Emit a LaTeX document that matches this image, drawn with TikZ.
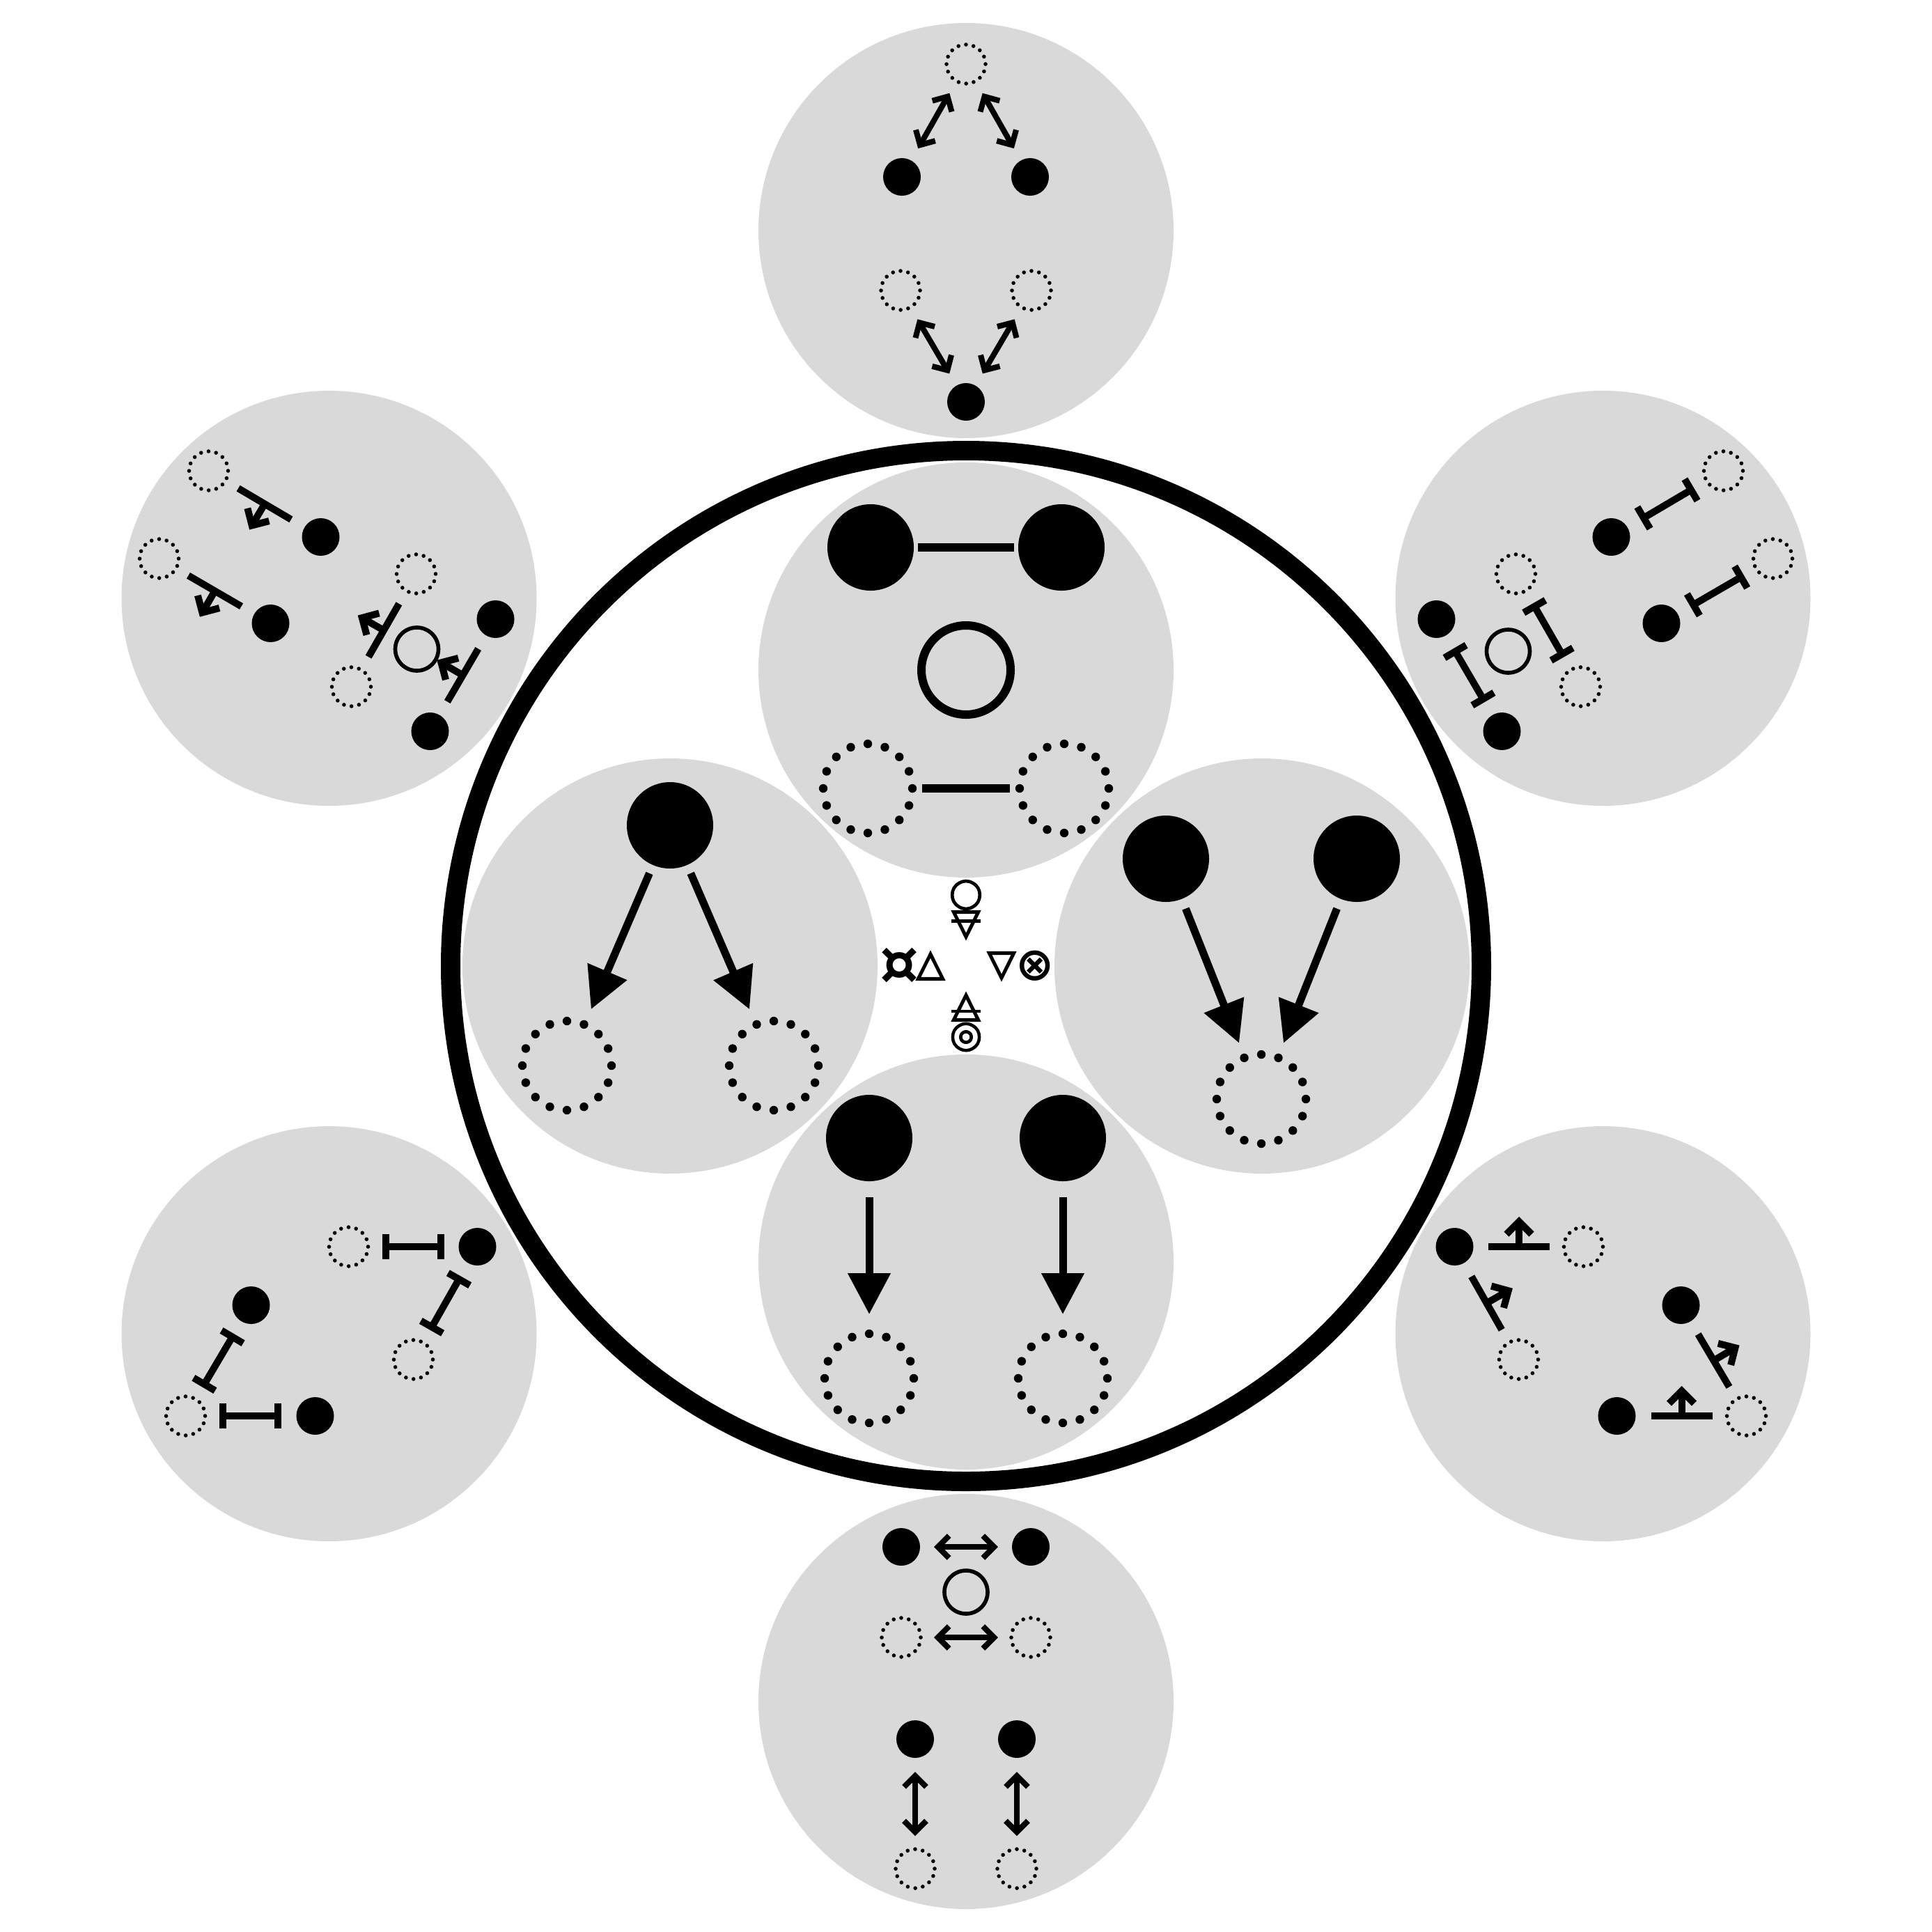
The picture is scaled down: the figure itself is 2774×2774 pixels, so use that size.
\documentclass[tikz,border=0pt]{standalone}
\usepackage{fontspec}
\newfontfamily\symfont{DejaVu Sans}
\newfontfamily\symfontfb{DejaVu Sans}[FakeBold=2.5]
\newfontfamily\symfonttri{DejaVu Sans}[FakeBold=4.5]
\usetikzlibrary{arrows.meta,calc}
\newcommand{\tjoin}[3]{%
  \coordinate (#3) at ($(#1)!0.5!(#2)$);
  \draw[tbar] ($(#3)!11pt!(#1)$) -- ($(#3)!11pt!(#2)$);
  \draw[tarrow] (#3) -- ($(#3)!10.75pt!90:(#2)$);
}
\newcommand{\ijoin}[3]{%
  \coordinate (#3) at ($(#1)!0.5!(#2)$);
  \draw[ibar] ($(#3)!11.125pt!(#1)$) -- ($(#3)!11.125pt!(#2)$);
}
\begin{document}
\begin{tikzpicture}[x=0.25pt,y=-0.25pt,
  bgdisk/.style={fill=black!15},
  fbig/.style={circle,fill=black,inner sep=0pt,outer sep=0pt,minimum size=31pt},
  dbig/.style={circle,draw=black,inner sep=0pt,outer sep=0pt,minimum size=32pt,line width=3.1pt,line cap=round,dash pattern=on 0pt off 6.2832pt},
  obig/.style={circle,draw=black,inner sep=0pt,outer sep=0pt,minimum size=32pt,line width=3pt},
  fsm/.style={circle,fill=black,inner sep=0pt,outer sep=0pt,minimum size=13.5pt},
  dsm/.style={circle,draw=black,inner sep=0pt,outer sep=0pt,minimum size=14pt,line width=1.4pt,line cap=round,dash pattern=on 0pt off 2.7489pt},
  osm/.style={circle,draw=black,inner sep=0pt,outer sep=0pt,minimum size=15.5pt,line width=1.4pt},
  link/.style={line width=3pt},
  bigarrow/.style={line width=2.75pt,-{Triangle[length=14.75pt,width=14.75pt]}},
  dblarrow/.style={line width=2pt,{Straight Barb[length=4pt,width=8pt]}-{Straight Barb[length=4pt,width=8pt]}},
  ibar/.style={line width=2.5pt,{Bar[width=9pt]}-{Bar[width=9pt]}},
  tbar/.style={line width=2.5pt},
  tarrow/.style={line width=2.5pt,-{Straight Barb[length=4.5pt,width=9pt]}},
  sym/.style={font=\symfont\bfseries\fontsize{#1}{#1}\selectfont,inner sep=0pt},
  symfb/.style={font=\symfontfb\fontsize{#1}{#1}\selectfont,inner sep=0pt},
  symtri/.style={font=\symfonttri\fontsize{#1}{#1}\selectfont,inner sep=0pt},
  symbar/.style={line width=1.15pt},
]
\useasboundingbox (0,0) rectangle (2774,2774);
% background disks
\fill[bgdisk] (1387,962) circle (298);
\fill[bgdisk] (962,1387) circle (298);
\fill[bgdisk] (1812,1387) circle (298);
\fill[bgdisk] (1387,1812) circle (298);
\fill[bgdisk] (1387,331) circle (298);
\fill[bgdisk] (1387,2443) circle (298);
\fill[bgdisk] (472.5,859) circle (298);
\fill[bgdisk] (2301.5,859) circle (298);
\fill[bgdisk] (472.5,1915) circle (298);
\fill[bgdisk] (2301.5,1915) circle (298);
% ring
\draw[line width=7pt] (1387,1387) circle (740);

% top inner
\begin{scope}[shift={(1387,962)}]
  \node[fbig] (ti-f1) at (-137,-176) {};
  \node[fbig] (ti-f2) at (137,-176) {};
  \node[obig] (ti-o) at (0,0) {};
  \node[dbig] (ti-d1) at (-141,170) {};
  \node[dbig] (ti-d2) at (141,170) {};
\end{scope}
\draw[link,shorten <=1.5pt,shorten >=1.5pt] (ti-f1) -- (ti-f2);
\draw[link,shorten <=3.5pt,shorten >=3.5pt] (ti-d1) -- (ti-d2);

% left inner
\begin{scope}[shift={(962,1387)}]
  \node[fbig] (li-f) at (0,-202) {};
  \node[dbig] (li-d1) at (-148,143) {};
  \node[dbig] (li-d2) at (149,143) {};
\end{scope}
\draw[bigarrow,shorten <=3.25pt,shorten >=6pt] (li-f) -- (li-d1);
\draw[bigarrow,shorten <=3.25pt,shorten >=6pt] (li-f) -- (li-d2);

% right inner
\begin{scope}[shift={(1812,1387)}]
  \node[fbig] (ri-f1) at (-138,-154) {};
  \node[fbig] (ri-f2) at (136,-154) {};
  \node[dbig] (ri-d) at (-1,191) {};
\end{scope}
\draw[bigarrow,shorten <=3.75pt,shorten >=5.6pt] (ri-f1) -- (ri-d);
\draw[bigarrow,shorten <=3.75pt,shorten >=5.6pt] (ri-f2) -- (ri-d);

% bottom inner
\begin{scope}[shift={(1387,1812)}]
  \node[fbig] (bi-f1) at (-139,-178) {};
  \node[fbig] (bi-f2) at (139,-178) {};
  \node[dbig] (bi-d1) at (-139,167) {};
  \node[dbig] (bi-d2) at (139,167) {};
\end{scope}
\draw[bigarrow,shorten <=5.75pt,shorten >=7pt] (bi-f1) -- (bi-d1);
\draw[bigarrow,shorten <=5.75pt,shorten >=7pt] (bi-f2) -- (bi-d2);

% top outer
\begin{scope}[shift={(1387,331)}]
  \node[dsm] (to-dt) at (0,-239) {};
  \node[fsm] (to-fl) at (-92,-77) {};
  \node[fsm] (to-fr) at (92,-77) {};
  \node[dsm] (to-dl) at (-94,86) {};
  \node[dsm] (to-dr) at (94,86) {};
  \node[fsm] (to-fb) at (0,246) {};
\end{scope}
\draw[dblarrow,shorten <=5pt,shorten >=5pt] (to-fl) -- (to-dt);
\draw[dblarrow,shorten <=5pt,shorten >=5pt] (to-fr) -- (to-dt);
\draw[dblarrow,shorten <=5pt,shorten >=5pt] (to-dl) -- (to-fb);
\draw[dblarrow,shorten <=5pt,shorten >=5pt] (to-dr) -- (to-fb);

% bottom outer
\begin{scope}[shift={(1387,2443)}]
  \node[fsm] (bo-fa) at (-93,-222) {};
  \node[fsm] (bo-fb) at (93,-222) {};
  \node[osm] (bo-o) at (0,-157) {};
  \node[dsm] (bo-da) at (-93,-92) {};
  \node[dsm] (bo-db) at (93,-92) {};
  \node[fsm] (bo-fc) at (-73,54) {};
  \node[fsm] (bo-fd) at (73,54) {};
  \node[dsm] (bo-dc) at (-73,240) {};
  \node[dsm] (bo-dd) at (73,240) {};
\end{scope}
\draw[dblarrow,shorten <=5pt,shorten >=5pt] (bo-fa) -- (bo-fb);
\draw[dblarrow,shorten <=4.75pt,shorten >=4.75pt] (bo-da) -- (bo-db);
\draw[dblarrow,shorten <=5pt,shorten >=4.75pt] (bo-fc) -- (bo-dc);
\draw[dblarrow,shorten <=5pt,shorten >=4.75pt] (bo-fd) -- (bo-dd);

% upper left outer
\begin{scope}[shift={(472.5,859)}]
  \node[dsm] (ul-d1) at (-173,-183) {};
  \node[fsm] (ul-f1) at (-12,-88) {};
  \node[dsm] (ul-d2) at (-244,-57) {};
  \node[fsm] (ul-f2) at (-84,36) {};
  \node[dsm] (ul-d3) at (125,-35) {};
  \node[fsm] (ul-f3) at (239,30) {};
  \node[osm] (ul-o) at (126,73) {};
  \node[dsm] (ul-d4) at (32,127) {};
  \node[fsm] (ul-f4) at (145,191) {};
\end{scope}
\tjoin{ul-f1}{ul-d1}{ul-m1}
\tjoin{ul-f2}{ul-d2}{ul-m2}
\tjoin{ul-d4}{ul-d3}{ul-m3}
\tjoin{ul-f4}{ul-f3}{ul-m4}

% upper right outer
\begin{scope}[shift={(2301.5,859)}]
  \node[dsm] (ur-d1) at (173,-183) {};
  \node[fsm] (ur-f1) at (12,-88) {};
  \node[dsm] (ur-d2) at (244,-57) {};
  \node[fsm] (ur-f2) at (84,36) {};
  \node[dsm] (ur-d3) at (-125,-35) {};
  \node[fsm] (ur-f3) at (-239,30) {};
  \node[osm] (ur-o) at (-136,76) {};
  \node[dsm] (ur-d4) at (-32,127) {};
  \node[fsm] (ur-f4) at (-145,191) {};
\end{scope}
\ijoin{ur-f1}{ur-d1}{ur-m1}
\ijoin{ur-f2}{ur-d2}{ur-m2}
\ijoin{ur-d3}{ur-d4}{ur-m3}
\ijoin{ur-f3}{ur-f4}{ur-m4}

% lower left outer
\begin{scope}[shift={(472.5,1915)}]
  \node[fsm] (ll-fe) at (213,-125) {};
  \node[dsm] (ll-de) at (28,-125) {};
  \node[dsm] (ll-df) at (121,37) {};
  \node[fsm] (ll-ff) at (-112,-41) {};
  \node[fsm] (ll-fg) at (-20,118) {};
  \node[dsm] (ll-dg) at (-206,118) {};
\end{scope}
\ijoin{ll-fe}{ll-de}{ll-m1}
\ijoin{ll-fe}{ll-df}{ll-m2}
\ijoin{ll-ff}{ll-dg}{ll-m3}
\ijoin{ll-fg}{ll-dg}{ll-m4}

% lower right outer
\begin{scope}[shift={(2301.5,1915)}]
  \node[fsm] (lr-fa) at (-213,-125) {};
  \node[dsm] (lr-da) at (-28,-125) {};
  \node[dsm] (lr-db) at (-121,37) {};
  \node[fsm] (lr-fc) at (112,-41) {};
  \node[fsm] (lr-fd) at (20,118) {};
  \node[dsm] (lr-dc) at (206,118) {};
\end{scope}
\tjoin{lr-fa}{lr-da}{lr-m1}
\tjoin{lr-fa}{lr-db}{lr-m2}
\tjoin{lr-fc}{lr-dc}{lr-m3}
\tjoin{lr-fd}{lr-dc}{lr-m4}

% centre symbols
\node[symfb=14pt] (s-sun) at (1387,1285) {○};
\node[symtri=13pt] (s-earth) at (1387,1328) {▽};
\node[sym=22pt] (s-cur) at (1291,1387) {¤};
\node[symtri=13pt] (s-fire) at (1336,1387) {△};
\node[symtri=13pt] (s-water) at (1438,1387) {▽};
\node[sym=16.5pt] (s-otimes) at (1486,1387) {⊗};
\node[symtri=13pt] (s-air) at (1387,1446) {△};
\node[symfb=13.5pt] (s-bull) at (1387,1489) {◎};
\coordinate (s-eb) at ($(s-earth.north)!0.36!(s-earth.south)$);
\draw[symbar] (s-eb -| s-earth.west) -- (s-eb -| s-earth.east);
\coordinate (s-ab) at ($(s-air.south)!0.36!(s-air.north)$);
\draw[symbar] (s-ab -| s-air.west) -- (s-ab -| s-air.east);
\end{tikzpicture}
\end{document}
